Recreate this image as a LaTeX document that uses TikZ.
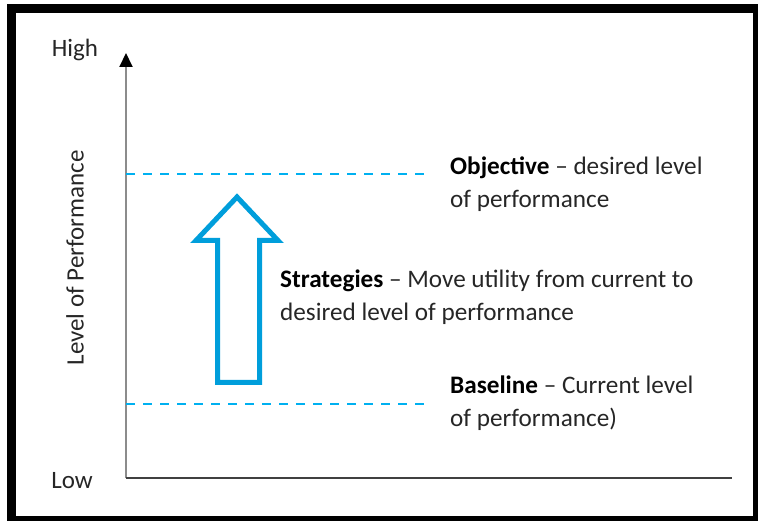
\documentclass[tikz,border=0pt]{standalone}
\usepackage{fontspec}
\setmainfont{Carlito}
\usetikzlibrary{arrows.meta}
\definecolor{dashblue}{RGB}{0,176,240}
\definecolor{arrowblue}{RGB}{0,158,219}
\definecolor{txtgray}{RGB}{38,38,38}
\tikzset{
  level line/.style={dashblue,line width=1.5pt,dash pattern=on 9pt off 8pt},
  caption/.style={anchor=base west,align=left,inner sep=0pt,
    font=\fontsize{25.2}{33}\selectfont,text=txtgray},
  axis label/.style={inner sep=0pt,font=\fontsize{25}{30}\selectfont,text=txtgray}
}
\begin{document}
\begin{tikzpicture}[x=1pt,y=-1pt]
  % page and frame
  \useasboundingbox (0,0) rectangle (758,521);
  \draw[line width=9pt] (11.5,8.5) rectangle (757.5,520.5);
  % axes
  \coordinate (origin) at (126,478);
  \coordinate (ytop) at (126,53);
  \coordinate (xend) at (732,478);
  \draw[gray!90,line width=2pt,-{Triangle[width=13pt,length=14pt,black]}] (origin) -- (ytop);
  \draw[black!75,line width=2pt] (origin) -- (xend);
  \node[axis label] (high) at (75,50) {High};
  \node[axis label] (low) at (72,480.5) {Low};
  \node[axis label,rotate=90] (perf) at (75,258) {Level of Performance};
  % objective and baseline levels
  \coordinate (obj-a) at (126,174);
  \coordinate (obj-b) at (427,174);
  \coordinate (base-a) at (126,404);
  \coordinate (base-b) at (425,404);
  \draw[level line] (obj-a) -- (obj-b);
  \draw[level line] (base-a) -- (base-b);
  % block arrow from baseline towards objective
  \draw[arrowblue,line width=5pt,fill=white]
    (217.5,382.5) -- (217.5,240.5) -- (196,240.5) -- (237,197)
    -- (278,240.5) -- (259.5,240.5) -- (259.5,382.5) -- cycle;
  % texts (anchored at the baseline of the last line)
  \node[caption] (objective) at (450,208)
    {\textbf{\color{black}Objective} -- desired level\\of performance};
  \node[caption] (strategies) at (280,321)
    {\textbf{\color{black}Strategies} -- Move utility from current to\\desired level of performance};
  \node[caption] (baseline) at (450,426)
    {\textbf{\color{black}Baseline} -- Current level\\of performance)};
\end{tikzpicture}
\end{document}
